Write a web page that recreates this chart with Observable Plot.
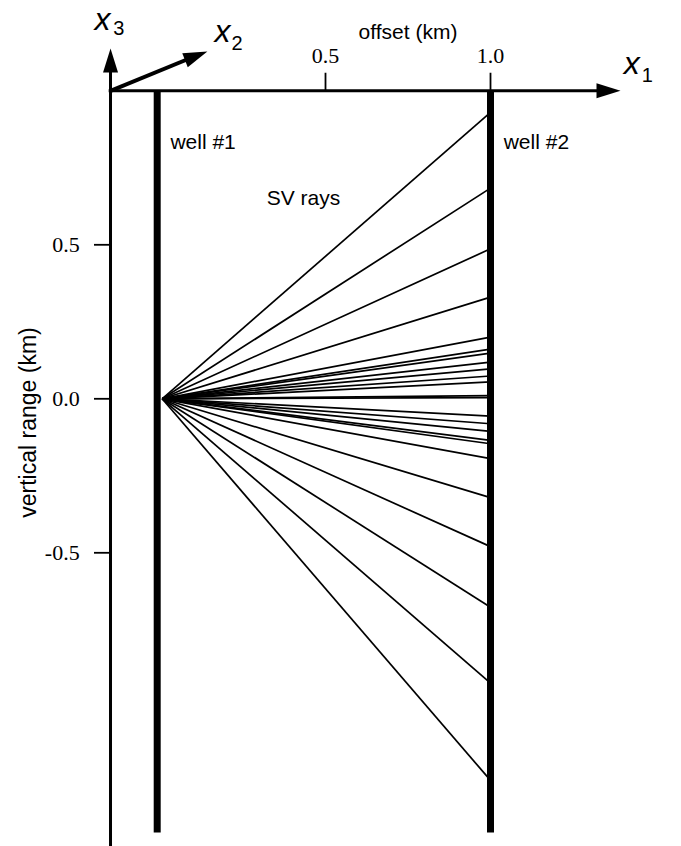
<!DOCTYPE html>
<html>
<head>
<meta charset="utf-8">
<script src="https://cdn.jsdelivr.net/npm/d3@7"></script>
<script src="https://cdn.jsdelivr.net/npm/@observablehq/plot@0.6"></script>
<style>
  html, body { margin: 0; padding: 0; background: #fff; }
  #chart svg { display: block; overflow: visible; }
</style>
</head>
<body>
<div id="chart"></div>
<script>
// ---- data (km) ----
const xTicks = [0.5, 1.0];
const xTickLabels = ["0.5", "1.0"];
const yTicks = [0.5, 0.0, -0.5];
const yTickLabels = ["0.5", "0.0", "-0.5"];
const wellX = [-0.01, 1.0];
const wellNames = ["well #1", "well #2"];
const wellTop = 1.0;
const wellBottom = -1.41;
const rayOriginX = 0.005;
const rayOriginY = 0.0;
const rayEndX = 1.0;
const rayEndY = [0.930, 0.684, 0.487, 0.330, 0.200, 0.161, 0.148, 0.119, 0.097, 0.074, 0.055,
                 0.010, 0.004, -0.056, -0.081, -0.106, -0.135, -0.146, -0.194, -0.321,
                 -0.480, -0.677, -0.923, -1.239];

// ---- derived tables ----
const rays = rayEndY.map(y => ({x1: rayOriginX, y1: rayOriginY, x2: rayEndX, y2: y}));
const wells = wellX.map((x, i) => ({x, name: wellNames[i]}));
const xt = xTicks.map((v, i) => ({v, label: xTickLabels[i]}));
const yt = yTicks.map((v, i) => ({v, label: yTickLabels[i]}));

const axisLeft = -0.1515;
const sans = "'Liberation Sans', Arial, Helvetica, sans-serif";
const serif = "'Liberation Serif', 'Times New Roman', Times, serif";

const head = {
  draw(ctx, size) {
    const r = Math.sqrt(size / Math.PI);
    const L = r * 1.6, W = r;
    ctx.moveTo(0, 0);
    ctx.lineTo(-W / 2, L);
    ctx.lineTo(W / 2, L);
    ctx.closePath();
  }
};

const arrowHeads = [
  {x: axisLeft, y: 1.137, rot: 0},      // x3
  {x: 1.394, y: 1.0, rot: 90},          // x1
  {x: 0.142, y: 1.1276, rot: 68.6}      // x2
];

const axisLetters = [
  {x: -0.200, y: 1.196, t: "x"},
  {x: 0.164, y: 1.157, t: "x"},
  {x: 1.404, y: 1.056, t: "x"}
];
const axisSubs = [
  {x: -0.143, y: 1.180, t: "3"},
  {x: 0.215, y: 1.131, t: "2"},
  {x: 1.458, y: 1.030, t: "1"}
];

const plot = Plot.plot({
  width: 681,
  height: 846,
  x: {domain: [-0.15, 1.4], range: [110.5, 622], axis: null},
  y: {domain: [-1.45, 1.15], range: [844.9, 44.1], axis: null},
  style: {background: "#fff"},
  marks: [
    // rays
    Plot.link(rays, {x1: "x1", y1: "y1", x2: "x2", y2: "y2", stroke: "black", strokeWidth: 1.7}),
    // wells
    Plot.ruleX(wells, {x: "x", y1: wellTop, y2: wellBottom, stroke: "black", strokeWidth: 7}),
    Plot.text(wells, {x: d => d.x + 0.040, y: 0.81, text: "name", textAnchor: "start", lineAnchor: "bottom",
      fontSize: 21, fontFamily: sans, fill: "black"}),
    Plot.text(["SV rays"], {x: 0.322, y: 0.628, text: d => d, textAnchor: "start", lineAnchor: "bottom",
      fontSize: 21, fontFamily: sans, fill: "black"}),
    // left axis (x3)
    Plot.ruleX([axisLeft], {y1: -1.455, y2: 1.07, stroke: "black", strokeWidth: 3}),
    // top axis (x1)
    Plot.ruleY([1.0], {x1: axisLeft - 0.004, x2: 1.33, stroke: "black", strokeWidth: 3}),
    // x2 arrow shaft
    Plot.link([{a: 0}], {x1: axisLeft, y1: 1.0, x2: 0.106, y2: 1.113, stroke: "black", strokeWidth: 4}),
    // arrow heads
    Plot.dot(arrowHeads, {x: "x", y: "y", rotate: "rot", r: 15, symbol: head, fill: "black", stroke: null}),
    // axis letters
    Plot.text(axisLetters, {x: "x", y: "y", text: "t", fontSize: 32, textAnchor: "start", lineAnchor: "bottom",
      fontFamily: sans, fontStyle: "italic", fill: "black"}),
    Plot.text(axisSubs, {x: "x", y: "y", text: "t", fontSize: 20, textAnchor: "start", lineAnchor: "bottom",
      fontFamily: sans, fill: "black"}),
    // x ticks
    Plot.ruleX(xt, {x: "v", y1: 1.0, y2: 1.057, stroke: "black", strokeWidth: 1.8}),
    Plot.text(xt, {x: "v", y: 1.089, text: "label", lineAnchor: "bottom", fontSize: 22, fontFamily: serif, fill: "black"}),
    Plot.text(["offset (km)"], {x: 0.75, y: 1.167, text: d => d, lineAnchor: "bottom", fontSize: 21, fontFamily: sans, fill: "black"}),
    // y ticks
    Plot.ruleY(yt, {y: "v", x1: -0.2, x2: axisLeft, stroke: "black", strokeWidth: 1.8}),
    Plot.text(yt, {x: -0.245, y: "v", text: "label", textAnchor: "end", lineAnchor: "middle", fontSize: 22, fontFamily: serif, fill: "black"}),
    Plot.text(["vertical range (km)"], {x: -0.40, y: -0.077, text: d => d, rotate: -90, textAnchor: "middle", lineAnchor: "middle",
      fontSize: 23, fontFamily: sans, fill: "black"})
  ]
});
document.getElementById("chart").appendChild(plot);
</script>
</body>
</html>
